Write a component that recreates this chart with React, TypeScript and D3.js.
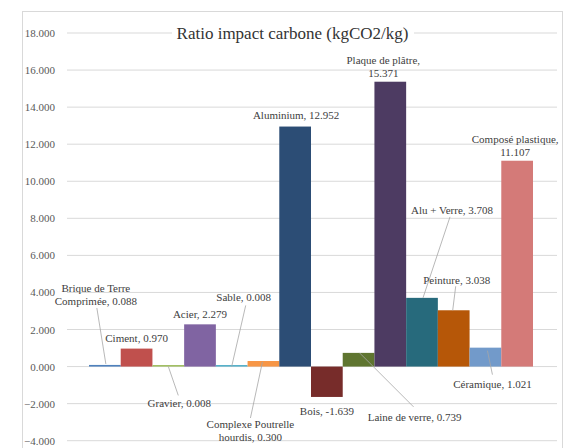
import React from "react";
import * as d3 from "d3";

const categories = [
  "Brique de Terre Comprimée",
  "Ciment",
  "Gravier",
  "Acier",
  "Sable",
  "Complexe Poutrelle hourdis",
  "Aluminium",
  "Bois",
  "Laine de verre",
  "Plaque de plâtre",
  "Alu + Verre",
  "Peinture",
  "Céramique",
  "Composé plastique",
];
const values = [0.088, 0.97, 0.008, 2.279, 0.008, 0.3, 12.952, -1.639, 0.739, 15.371, 3.708, 3.038, 1.021, 11.107];
const colors = [
  "#4F81BD", "#C0504D", "#9BBB59", "#8064A2", "#4BACC6", "#F79646",
  "#2C4D75", "#772C2A", "#5F7530", "#4D3B62", "#276A7C", "#B65708",
  "#729ACA", "#D47A78",
];
// label lines as displayed (manual wrapping like the original)
const labelLines: string[][] = [
  ["Brique de Terre", "Comprimée, 0.088"],
  ["Ciment, 0.970"],
  ["Gravier, 0.008"],
  ["Acier, 2.279"],
  ["Sable, 0.008"],
  ["Complexe Poutrelle", "hourdis, 0.300"],
  ["Aluminium, 12.952"],
  ["Bois, -1.639"],
  ["Laine de verre, 0.739"],
  ["Plaque de plâtre,", "15.371"],
  ["Alu + Verre, 3.708"],
  ["Peinture, 3.038"],
  ["Céramique, 1.021"],
  ["Composé plastique,", "11.107"],
];
const yTicks = [-4, -2, 0, 2, 4, 6, 8, 10, 12, 14, 16, 18];

// layout: label offset from (bar centre, bar end) [dx, dy of first baseline]; leader [x1,y1,x2,y2] offsets
const labelOffsets: [number, number][] = [
  [-9, -73], [0, -7], [11, 41], [0, -6], [12, -65], [-13, 67], [1, -8], [0, 18],
  [56, 68], [-7, -18], [30, -84], [3, -26], [7, 40], [-2, -18],
];
const leaders: ([number, number, number, number] | null)[] = [
  [1, -1, -8, -57], null, [0, 0, 10, 29], null, [0, 0, 14, -61], [-1, 1, -13, 57], null, null,
  [1, 0, 55, 54], null, [1, 0, 28, -81], [-1, 0, 2, -24], [2, 3, 7, 27], null,
];

export default function App() {
  const W = 577, H = 448;
  const y = d3.scaleLinear().domain([-4, 18]).range([440.7, 33]);
  const x = d3.scaleBand<string>().domain(categories).range([89, 533]).padding(0);
  const bw = x.bandwidth();
  const y0 = y(0);
  const font = '"Liberation Serif", "Times New Roman", Times, "DejaVu Serif", serif';

  return (
    <svg width={W} height={H} style={{ position: "absolute", left: 0, top: 0, background: "#fff", fontFamily: font }}>
      <rect x={0} y={0} width={W} height={H} fill="#fff" />
      <rect x={22.5} y={11.5} width={540} height={460} fill="#fff" stroke="#d9d9d9" />
      {yTicks.map((t) => (
        <g key={t}>
          <line x1={67} x2={557} y1={y(t)} y2={y(t)} stroke="#d9d9d9" strokeWidth={1} />
          <text x={55} y={y(t) + 4} textAnchor="end" fontSize={11} fill="#595959" style={{ fontFamily: font }}>
            {d3.format(".3f")(t)}
          </text>
        </g>
      ))}
      {categories.map((c, i) => {
        const v = values[i];
        const top = Math.min(y(v), y0);
        const h = Math.max(Math.abs(y(v) - y0), 1.5);
        return <rect key={c} x={x(c)!} y={v >= 0 ? y0 - h : top} width={bw} height={h} fill={colors[i]} />;
      })}
      {categories.map((c, i) => {
        const cx = x(c)! + bw / 2;
        const vy = y(values[i]);
        const L = leaders[i];
        return L ? (
          <line key={"l" + c} x1={cx + L[0]} y1={vy + L[1]} x2={cx + L[2]} y2={vy + L[3]} stroke="#a6a6a6" strokeWidth={0.8} />
        ) : null;
      })}
      {categories.map((c, i) => {
        const cx = x(c)! + bw / 2;
        const vy = y(values[i]);
        const [dx, dy] = labelOffsets[i];
        return (
          <text key={"t" + c} x={cx + dx} y={vy + dy} textAnchor="middle" fontSize={11} fill="#404040" style={{ fontFamily: font }}>
            {labelLines[i].map((ln, k) => (
              <tspan key={k} x={cx + dx} dy={k === 0 ? 0 : 13}>
                {ln}
              </tspan>
            ))}
          </text>
        );
      })}
      <rect x={172} y={22} width={242} height={22} fill="#fff" />
      <text x={292.5} y={39} textAnchor="middle" fontSize={17} fill="#333" style={{ fontFamily: font }}>
        Ratio impact carbone (kgCO2/kg)
      </text>
    </svg>
  );
}
